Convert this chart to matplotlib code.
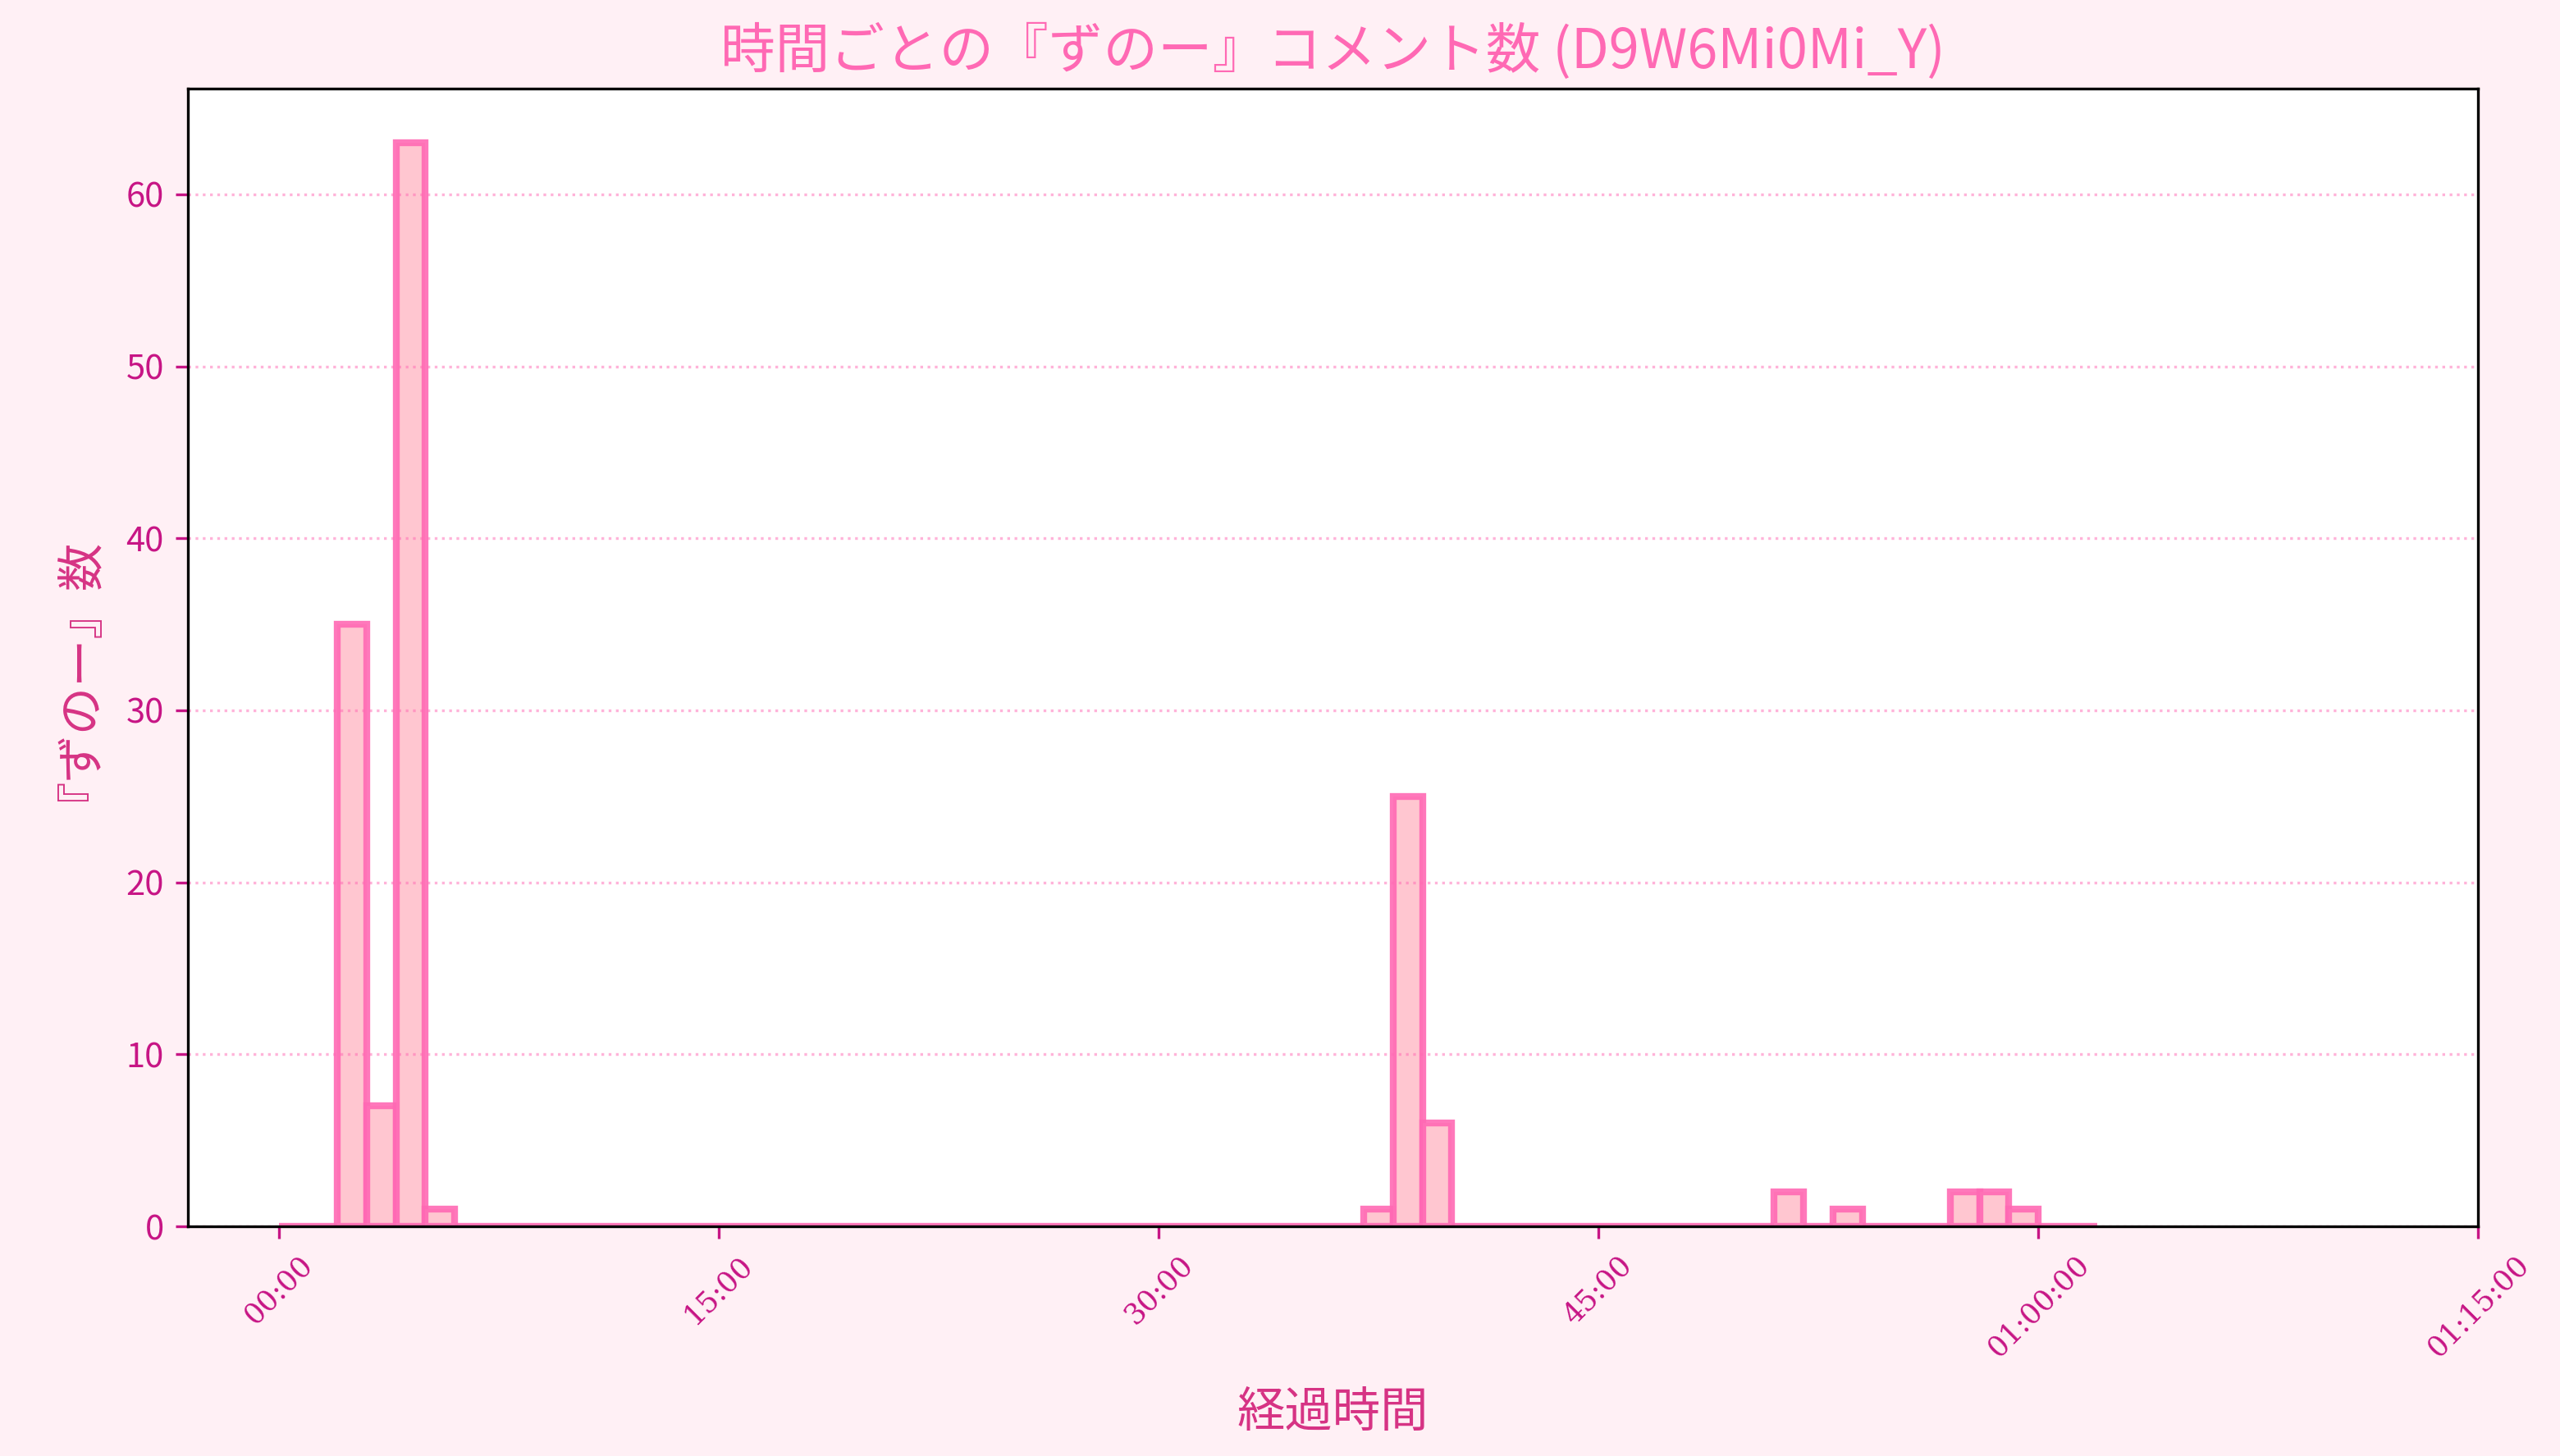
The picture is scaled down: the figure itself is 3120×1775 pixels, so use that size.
import numpy as np
import matplotlib
matplotlib.use("Agg")
import matplotlib.pyplot as plt

plt.rcParams['font.family'] = ['Noto Sans CJK JP', 'DejaVu Sans']

# 1-minute bins (start second of each bin) and comment counts
bin_width = 60
bin_starts = list(range(0, 3720, 60))
counts = [0, 0, 35, 7, 63, 1, 0, 0, 0, 0,
          0, 0, 0, 0, 0, 0, 0, 0, 0, 0,
          0, 0, 0, 0, 0, 0, 0, 0, 0, 0,
          0, 0, 0, 0, 0, 0, 0, 1, 25, 6,
          0, 0, 0, 0, 0, 0, 0, 0, 0, 0,
          0, 2, 0, 1, 0, 0, 0, 2, 2, 1,
          0, 0]

tick_pos = [0, 900, 1800, 2700, 3600, 4500]
tick_labels = ['00:00', '15:00', '30:00', '45:00', '01:00:00', '01:15:00']

fig = plt.figure(figsize=(10.4, 5.9167), dpi=300, facecolor='#fff0f5')
ax = fig.add_axes([0.0734, 0.1577, 0.8946, 0.7815])
ax.set_facecolor('white')

ax.bar(bin_starts, counts, width=bin_width, align='edge',
       color='#ffc0cb', edgecolor='#ff69b4', linewidth=2, alpha=0.9)

ax.set_xticks(tick_pos)
ax.set_xticklabels(tick_labels, rotation=45, family='DejaVu Serif', fontsize=8.5)
ax.tick_params(axis='both', colors='#c71585')
ax.tick_params(axis='y', labelsize=10)
for s in ax.spines.values():
    s.set_color('black')

ax.grid(axis='y', linestyle=':', color='#ff69b4', alpha=0.5)

ax.set_title('時間ごとの『ずのー』コメント数 (D9W6Mi0Mi_Y)', fontsize=16, color='#ff69b4')
ax.set_xlabel('経過時間', fontsize=14, color='#d63384', labelpad=7.5)
ax.set_ylabel('『ずのー』数', fontsize=14, color='#d63384', labelpad=13)

fig.savefig('out.png', dpi=300, facecolor=fig.get_facecolor())
